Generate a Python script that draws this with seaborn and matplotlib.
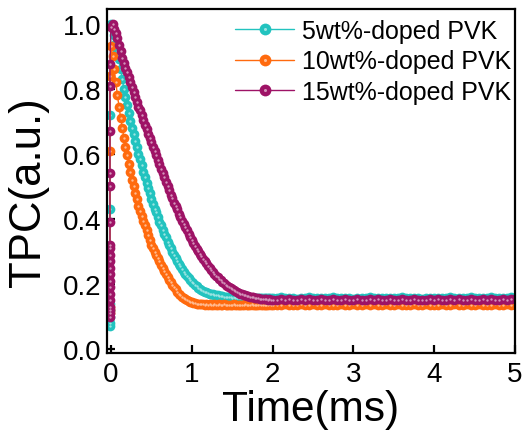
import numpy as np
import pandas as pd
import matplotlib
matplotlib.use("Agg")
import matplotlib.pyplot as plt
import seaborn as sns
from matplotlib.lines import Line2D
from matplotlib.legend_handler import HandlerTuple
import matplotlib.colors as mcolors

# ---------------- data ----------------
series_names = ["5wt%-doped PVK", "10wt%-doped PVK", "15wt%-doped PVK"]
series_colors = ["#22C3BF", "#FF6A0E", "#9E1366"]

x_ticks = [0, 1, 2, 3, 4, 5]
y_ticks = [0.0, 0.2, 0.4, 0.6, 0.8, 1.0]
x_ticklabels = ["0", "1", "2", "3", "4", "5"]
y_ticklabels = ["0.0", "0.2", "0.4", "0.6", "0.8", "1.0"]

rise_time = -0.012          # the fast rising edge, all at t ~ 0
decay_time = np.round(np.arange(0.0, 2.0001, 0.02), 3)      # 101 samples
plateau_time = np.round(np.arange(2.05, 5.0001, 0.05), 3)   # 60 samples

cyan_rise = [0.07, 0.08, 0.10, 0.12, 0.14, 0.43, 0.72]
orange_rise = [0.11, 0.12, 0.13, 0.61, 0.84]
purple_rise = [0.10, 0.11, 0.12, 0.13, 0.15, 0.17, 0.19, 0.21, 0.23, 0.25,
               0.27, 0.29, 0.31, 0.32, 0.39, 0.50, 0.54, 0.67, 0.81, 0.875]

cyan_decay = [1.00, 0.985, 0.965, 0.94, 0.915, 0.89, 0.86, 0.83, 0.80, 0.775,
              0.75, 0.725, 0.70, 0.68, 0.66, 0.64, 0.62, 0.60, 0.585, 0.565,
              0.545, 0.53, 0.51, 0.495, 0.48, 0.46, 0.445, 0.43, 0.42, 0.405,
              0.39, 0.38, 0.365, 0.355, 0.345, 0.33, 0.32, 0.31, 0.30, 0.29,
              0.28, 0.271, 0.262, 0.254, 0.246, 0.238, 0.231, 0.224, 0.218, 0.212,
              0.207, 0.202, 0.197, 0.193, 0.189, 0.185, 0.182, 0.179, 0.177, 0.175,
              0.173, 0.171, 0.169, 0.168, 0.167, 0.166, 0.165, 0.164, 0.163, 0.162,
              0.161, 0.161, 0.160, 0.160, 0.159, 0.158, 0.159, 0.158, 0.158, 0.157,
              0.157, 0.158, 0.157, 0.156, 0.158, 0.157, 0.156, 0.157, 0.158, 0.156,
              0.157, 0.156, 0.158, 0.157, 0.156, 0.157, 0.158, 0.156, 0.157, 0.156,
              0.157]
orange_decay = [0.93, 0.90, 0.86, 0.82, 0.78, 0.745, 0.71, 0.68, 0.65, 0.62,
                0.595, 0.57, 0.545, 0.52, 0.50, 0.48, 0.46, 0.44, 0.425, 0.41,
                0.395, 0.38, 0.365, 0.35, 0.335, 0.32, 0.31, 0.30, 0.29, 0.28,
                0.27, 0.26, 0.25, 0.24, 0.23, 0.222, 0.214, 0.206, 0.198, 0.191,
                0.184, 0.177, 0.171, 0.166, 0.161, 0.157, 0.153, 0.150, 0.148, 0.146,
                0.144, 0.142, 0.141, 0.140, 0.139, 0.139, 0.138, 0.138, 0.137, 0.138,
                0.137, 0.138, 0.136, 0.137, 0.138, 0.136, 0.137, 0.138, 0.137, 0.136,
                0.138, 0.137, 0.136, 0.137, 0.135, 0.137, 0.138, 0.136, 0.137, 0.136,
                0.137, 0.135, 0.137, 0.138, 0.136, 0.137, 0.136, 0.138, 0.137, 0.135,
                0.137, 0.136, 0.138, 0.137, 0.136, 0.137, 0.135, 0.137, 0.138, 0.136,
                0.137]
purple_decay = [0.99, 1.00, 0.985, 0.97, 0.955, 0.935, 0.915, 0.895, 0.88, 0.865,
                0.85, 0.835, 0.82, 0.805, 0.79, 0.775, 0.76, 0.745, 0.735, 0.72,
                0.705, 0.69, 0.675, 0.66, 0.65, 0.635, 0.62, 0.61, 0.595, 0.58,
                0.57, 0.555, 0.54, 0.53, 0.515, 0.50, 0.49, 0.475, 0.465, 0.45,
                0.44, 0.43, 0.415, 0.405, 0.395, 0.385, 0.375, 0.365, 0.355, 0.345,
                0.335, 0.325, 0.317, 0.309, 0.301, 0.293, 0.285, 0.278, 0.271, 0.264,
                0.257, 0.25, 0.244, 0.238, 0.232, 0.226, 0.221, 0.216, 0.211, 0.206,
                0.202, 0.198, 0.194, 0.19, 0.187, 0.184, 0.181, 0.178, 0.175, 0.173,
                0.171, 0.169, 0.167, 0.165, 0.164, 0.162, 0.161, 0.16, 0.159, 0.158,
                0.157, 0.156, 0.155, 0.155, 0.154, 0.153, 0.153, 0.152, 0.153, 0.152,
                0.152]

cyan_plateau = [0.157, 0.159, 0.156, 0.158, 0.157, 0.155, 0.158, 0.157, 0.159, 0.156,
                0.157, 0.158, 0.156, 0.157, 0.159, 0.157, 0.156, 0.158, 0.157, 0.155,
                0.158, 0.157, 0.156, 0.159, 0.157, 0.158, 0.156, 0.157, 0.158, 0.156,
                0.157, 0.159, 0.157, 0.156, 0.158, 0.157, 0.155, 0.157, 0.158, 0.156,
                0.158, 0.157, 0.156, 0.159, 0.157, 0.158, 0.156, 0.157, 0.159, 0.157,
                0.156, 0.158, 0.157, 0.159, 0.156, 0.157, 0.158, 0.157, 0.159, 0.158]
orange_plateau = [0.137, 0.136, 0.138, 0.137, 0.135, 0.137, 0.138, 0.136, 0.137, 0.139,
                  0.136, 0.137, 0.138, 0.136, 0.137, 0.135, 0.138, 0.137, 0.136, 0.138,
                  0.137, 0.136, 0.138, 0.137, 0.139, 0.136, 0.137, 0.138, 0.136, 0.137,
                  0.138, 0.136, 0.137, 0.135, 0.138, 0.137, 0.136, 0.138, 0.137, 0.136,
                  0.137, 0.138, 0.136, 0.137, 0.139, 0.137, 0.136, 0.138, 0.137, 0.136,
                  0.138, 0.137, 0.136, 0.137, 0.138, 0.136, 0.137, 0.138, 0.137, 0.136]
purple_plateau = [0.152, 0.154, 0.151, 0.153, 0.152, 0.150, 0.153, 0.152, 0.154, 0.151,
                  0.152, 0.153, 0.151, 0.152, 0.154, 0.152, 0.151, 0.153, 0.152, 0.150,
                  0.153, 0.152, 0.151, 0.154, 0.152, 0.153, 0.151, 0.152, 0.153, 0.151,
                  0.152, 0.154, 0.152, 0.151, 0.153, 0.152, 0.150, 0.152, 0.153, 0.151,
                  0.153, 0.152, 0.151, 0.154, 0.152, 0.153, 0.151, 0.152, 0.154, 0.152,
                  0.151, 0.153, 0.152, 0.154, 0.151, 0.152, 0.153, 0.152, 0.154, 0.153]

# ---------------- assemble a long table ----------------
rises = [cyan_rise, orange_rise, purple_rise]
decays = [cyan_decay, orange_decay, purple_decay]
plateaus = [cyan_plateau, orange_plateau, purple_plateau]

frames = []
for name, r, d, p in zip(series_names, rises, decays, plateaus):
    t = [rise_time] * len(r) + list(decay_time) + list(plateau_time)
    v = list(r) + list(d) + list(p)
    frames.append(pd.DataFrame({"Time": t, "TPC": v, "series": name}))
df = pd.concat(frames, ignore_index=True)

# ---------------- style ----------------
sns.set_theme(style="ticks")
plt.rcParams["font.family"] = ["Liberation Sans", "DejaVu Sans"]
plt.rcParams["axes.linewidth"] = 1.6
plt.rcParams["text.color"] = "black"
plt.rcParams["axes.labelcolor"] = "black"
plt.rcParams["xtick.color"] = "black"
plt.rcParams["ytick.color"] = "black"

fig = plt.figure(figsize=(5.24, 4.35), dpi=100)
ax = fig.add_axes([0.204, 0.186, 0.779, 0.791])

def lighten(c, f):
    r, g, b = mcolors.to_rgb(c)
    return (r + (1 - r) * f, g + (1 - g) * f, b + (1 - b) * f)

handles = []
for name, col in zip(series_names, series_colors):
    sub = df[df["series"] == name]
    sns.lineplot(data=sub, x="Time", y="TPC", ax=ax, color=col, lw=1.0,
                 marker="o", markersize=7.0, markeredgewidth=0,
                 estimator=None, sort=False, label=name, legend=False)
    sns.lineplot(data=sub, x="Time", y="TPC", ax=ax, color=lighten(col, 0.55),
                 lw=0, marker="o", markersize=1.7, markeredgewidth=0,
                 estimator=None, sort=False, legend=False)
    h1 = Line2D([], [], color=col, lw=1.0, marker="o", markersize=8.5,
                markeredgewidth=0)
    h2 = Line2D([], [], color=lighten(col, 0.55), lw=0, marker="o",
                markersize=2.2, markeredgewidth=0)
    handles.append((h1, h2))

ax.set_xlim(-0.05, 5.0)
ax.set_ylim(-0.012, 1.045)
ax.set_xticks(x_ticks)
ax.set_xticklabels(x_ticklabels)
ax.set_yticks(y_ticks)
ax.set_yticklabels(y_ticklabels)
ax.tick_params(direction="in", length=6, width=1.6, labelsize=20, pad=4,
               colors="black", labelcolor="black")
ax.tick_params(axis="x", pad=6)
for s in ax.spines.values():
    s.set_visible(True)
    s.set_color("black")
    s.set_linewidth(1.6)

ax.set_xlabel("Time(ms)", fontsize=30.5, labelpad=1, color="black")
ax.set_ylabel("TPC(a.u.)", fontsize=31.5, color="black")
ax.yaxis.set_label_coords(-0.143, 0.47)

leg = ax.legend(handles, series_names, handler_map={tuple: HandlerTuple(ndivide=1)},
                loc="upper right", bbox_to_anchor=(1.005, 0.99),
                frameon=False, fontsize=18,
                handlelength=2.35, handletextpad=0.3, labelspacing=0.27,
                borderaxespad=0.1, borderpad=0.15)
for txt in leg.get_texts():
    txt.set_color("black")

fig.savefig("out.png", dpi=100, facecolor="white")
